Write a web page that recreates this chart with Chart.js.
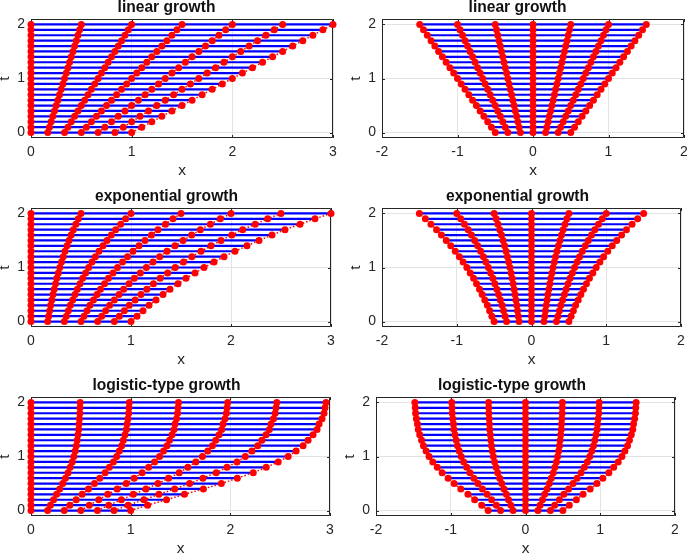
<!DOCTYPE html>
<html>
<head>
<meta charset="utf-8">
<script src="https://cdn.jsdelivr.net/npm/chart.js@4.4.0/dist/chart.umd.min.js"></script>
<style>
    html, body { margin: 0; padding: 0; background: #fff; }
    body { width: 687px; height: 555px; overflow: hidden; position: relative; }
    canvas { position: absolute; }
</style>
</head>
<body>
<script>
// time levels (rows of the mesh)
const timeLevels = [0, 0.1, 0.2, 0.3, 0.4, 0.5, 0.6, 0.7, 0.8, 0.9, 1.0, 1.1, 1.2, 1.3, 1.4, 1.5, 1.6, 1.7, 1.8, 1.9, 2.0];

// domain length at each time level
const linearLength = [1.00, 1.10, 1.20, 1.30, 1.40, 1.50, 1.60, 1.70, 1.80, 1.90, 2.00, 2.10, 2.20, 2.30, 2.40, 2.50, 2.60, 2.70, 2.80, 2.90, 3.00];
const exponentialLength = [1.00, 1.06, 1.12, 1.18, 1.25, 1.32, 1.39, 1.47, 1.55, 1.64, 1.73, 1.83, 1.93, 2.04, 2.16, 2.28, 2.41, 2.54, 2.69, 2.84, 3.00];
const logisticLength = [1.00, 1.17, 1.36, 1.54, 1.73, 1.91, 2.07, 2.23, 2.36, 2.48, 2.58, 2.66, 2.73, 2.78, 2.83, 2.87, 2.89, 2.92, 2.94, 2.95, 2.96];

// node positions as fraction of the domain
const meshFractions = [0, 0.1667, 0.3333, 0.5, 0.6667, 0.8333, 1];

const panelTitles = ['linear growth', 'exponential growth', 'logistic-type growth'];
const xTicksOneSided = [0, 1, 2, 3];
const xTicksCentered = [-2, -1, 0, 1, 2];
const tTicks = [0, 1, 2];

const lengths = [linearLength, exponentialLength, logisticLength];

// where each subplot canvas sits on the page
const panelBoxes = [
    [{ left: 0, top: 0, width: 343 }, { left: 351, top: 0, width: 343 }],
    [{ left: 0, top: 189, width: 335 }, { left: 351, top: 189, width: 334 }],
    [{ left: 0, top: 378, width: 334 }, { left: 345, top: 378, width: 334 }]
];
const canvasHeight = 189;
const areaLeft = 31, areaTop = 19, areaBottom = 138;

const axisColor = '#262626';
const fontFamily = "'Liberation Sans', Arial, Helvetica, sans-serif";

const framePlugin = {
    id: 'frame',
    beforeDatasetsDraw(chart) {
        const { ctx, chartArea: a, scales } = chart;
        ctx.save();
        ctx.strokeStyle = axisColor;
        ctx.lineWidth = 1;
        ctx.beginPath();
        ctx.rect(a.left + 0.5, a.top + 0.5, a.right - a.left - 1, a.bottom - a.top - 1);
        const len = 3;
        scales.x.ticks.forEach(tk => {
            const px = Math.round(scales.x.getPixelForValue(tk.value)) + 0.5;
            ctx.moveTo(px, a.bottom); ctx.lineTo(px, a.bottom - len);
            ctx.moveTo(px, a.top); ctx.lineTo(px, a.top + len);
        });
        scales.y.ticks.forEach(tk => {
            const py = Math.round(scales.y.getPixelForValue(tk.value)) + 0.5;
            ctx.moveTo(a.left, py); ctx.lineTo(a.left + len, py);
            ctx.moveTo(a.right, py); ctx.lineTo(a.right - len, py);
        });
        ctx.stroke();
        ctx.restore();
    }
};

function buildDatasets(widths, centered) {
    const rows = timeLevels.map((t, k) =>
        meshFractions.map(f => ({ x: (centered ? f - 0.5 : f) * widths[k], y: t })));
    const datasets = [];
    meshFractions.forEach((f, i) => {
        datasets.push({
            data: rows.map(r => r[i]),
            showLine: true,
            borderColor: '#ff0000',
            borderWidth: 1.5,
            borderDash: [1.5, 2],
            pointRadius: 3.5,
            pointBackgroundColor: '#ff0000',
            pointBorderWidth: 0,
            clip: false,
            order: 0
        });
    });
    rows.forEach(r => {
        datasets.push({
            data: [r[0], r[r.length - 1]],
            showLine: true,
            borderColor: '#0000ff',
            borderWidth: 2.2,
            pointRadius: 0,
            clip: false,
            order: 1
        });
    });
    return datasets;
}

function noScalePadding(s) {
    s.paddingLeft = 0;
    s.paddingRight = 0;
    s.paddingTop = 0;
    s.paddingBottom = 0;
}

function makePanel(row, col) {
    const box = panelBoxes[row][col];
    const canvas = document.createElement('canvas');
    canvas.width = box.width;
    canvas.height = canvasHeight;
    canvas.style.left = box.left + 'px';
    canvas.style.top = box.top + 'px';
    document.body.appendChild(canvas);

    const centered = col === 1;
    const xTicks = centered ? xTicksCentered : xTicksOneSided;
    // right edge of the axes box, relative to this canvas
    const areaRight = row === 2 && col === 1 ? 334 : 333;

    new Chart(canvas, {
        type: 'scatter',
        data: { datasets: buildDatasets(lengths[row], centered) },
        plugins: [framePlugin],
        options: {
            responsive: false,
            animation: false,
            devicePixelRatio: 1,
            events: [],
            layout: { padding: { left: 0, top: 0, bottom: 0, right: box.width - areaRight } },
            plugins: {
                legend: { display: false },
                tooltip: { enabled: false },
                title: {
                    display: true,
                    text: panelTitles[row],
                    color: '#111',
                    font: { family: fontFamily, size: 15.6, weight: 'bold', lineHeight: 1 },
                    padding: { top: 0, bottom: areaTop - 15.6 }
                }
            },
            scales: {
                x: {
                    type: 'linear',
                    min: xTicks[0],
                    max: xTicks[xTicks.length - 1],
                    afterBuildTicks: s => { s.ticks = xTicks.map(v => ({ value: v })); },
                    afterFit: s => { s.height = canvasHeight - areaBottom; noScalePadding(s); },
                    grid: { color: '#e3e3e3', lineWidth: 1, drawTicks: false },
                    border: { display: false },
                    ticks: { color: axisColor, padding: 6, maxRotation: 0, font: { family: fontFamily, size: 14 } },
                    title: {
                        display: true, text: 'x', color: axisColor,
                        font: { family: fontFamily, size: 15.5, lineHeight: 1.2 },
                        padding: { top: 0, bottom: 9 }
                    }
                },
                y: {
                    type: 'linear',
                    min: -0.1,
                    max: 2.1,
                    afterBuildTicks: s => { s.ticks = tTicks.map(v => ({ value: v })); },
                    afterFit: s => { s.width = areaLeft; noScalePadding(s); },
                    grid: { color: '#e3e3e3', lineWidth: 1, drawTicks: false },
                    border: { display: false },
                    ticks: { color: axisColor, padding: 6, font: { family: fontFamily, size: 14 } },
                    title: {
                        display: true, text: 't', color: axisColor,
                        font: { family: fontFamily, size: 15.5, lineHeight: 0.58 },
                        padding: { top: 0, bottom: 0 }
                    }
                }
            }
        }
    });
}

for (let row = 0; row < 3; row++) {
    for (let col = 0; col < 2; col++) {
        makePanel(row, col);
    }
}
</script>
</body>
</html>
